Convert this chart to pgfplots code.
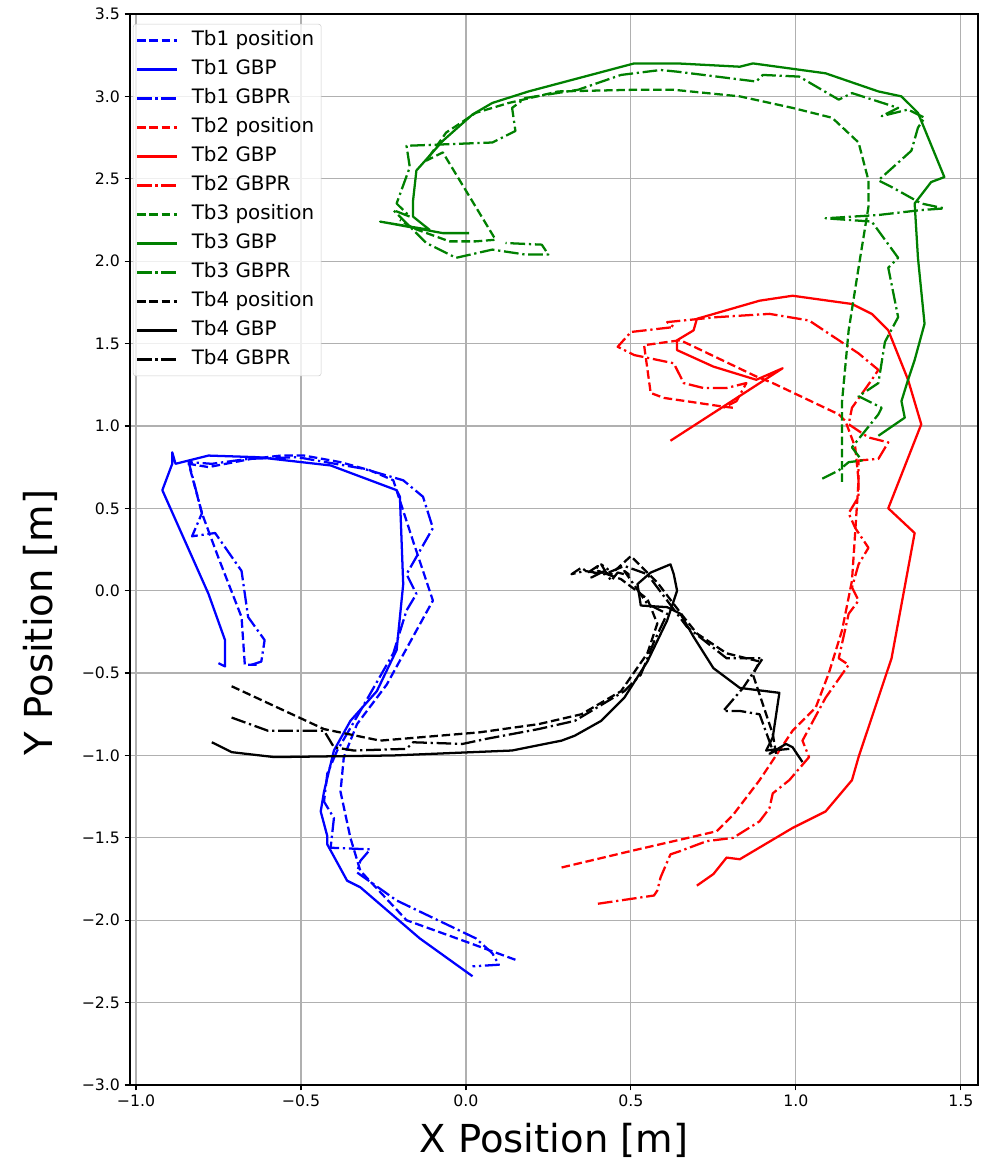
\documentclass[border=0pt]{standalone}
\usepackage{fontspec}
\setmainfont{DejaVu Sans}
\usepackage{pgfplots}
\pgfplotsset{compat=1.18}
\definecolor{mplgreen}{rgb}{0,0.5,0}
\tikzset{
  dsh/.style={dash pattern=on 6.4pt off 2.8pt},
  dshdot/.style={dash pattern=on 11pt off 2.8pt on 1.7pt off 2.8pt},
}
\begin{document}
\begin{tikzpicture}
\begin{axis}[
  scale only axis, width=636pt, height=803.25pt,
  xmin=-1.018, xmax=1.552, ymin=-3, ymax=3.5,
  xtick={-1,-0.5,0,0.5,1,1.5},
  xticklabels={−1.0,−0.5,0.0,0.5,1.0,1.5},
  ytick={-3,-2.5,-2,-1.5,-1,-0.5,0,0.5,1,1.5,2,2.5,3,3.5},
  yticklabels={−3.0,−2.5,−2.0,−1.5,−1.0,−0.5,0.0,0.5,1.0,1.5,2.0,2.5,3.0,3.5},
  tick label style={font=\fontsize{11.8}{13}\selectfont},
  tick align=outside, major tick length=4pt,
  tick style={black, line width=0.9pt},
  xtick pos=bottom, ytick pos=left,
  axis line style={line width=0.9pt},
  grid=major, major grid style={color=black!31, line width=0.9pt},
  xlabel={X Position [m]}, ylabel={Y Position [m]},
  label style={font=\fontsize{28.9}{32}\selectfont},
  xlabel style={at={(axis description cs:0.5,-0.0514)}, anchor=center},
  ylabel style={at={(axis description cs:-0.106,0.432)}, anchor=center},
  legend style={at={(axis description cs:0.0035,0.9907)}, anchor=north west,
    draw=black!20, rounded corners=2pt, fill=white, fill opacity=0.8, text opacity=1,
    font=\fontsize{14.9}{17}\selectfont, row sep=4.25pt, column sep=7pt,
    inner xsep=2pt, inner ysep=3.5pt,
    nodes={text height=10.5pt, text depth=3pt, inner xsep=3.25pt, inner ysep=2pt}},
  legend cell align=left,
  legend image code/.code={\draw[#1] plot coordinates {(0pt,0pt) (30pt,0pt)};},
  every axis plot/.append style={line width=1.7pt, mark=none, line join=round},
]
% Tb1
\addplot[blue, dsh] coordinates {(0.15,-2.24) (0.00,-2.13) (-0.18,-2.00) (-0.32,-1.70) (-0.35,-1.50) (-0.38,-1.22) (-0.37,-1.01) (-0.33,-0.81) (-0.24,-0.57) (-0.10,-0.06) (-0.16,0.30) (-0.22,0.67) (-0.29,0.73) (-0.38,0.78) (-0.49,0.82) (-0.56,0.82) (-0.65,0.80) (-0.78,0.75) (-0.84,0.77) (-0.80,0.47) (-0.75,0.20) (-0.68,-0.16) (-0.67,-0.45) (-0.63,-0.45)};
\addlegendentry{Tb1 position}
\addplot[blue] coordinates {(-0.75,-0.44) (-0.73,-0.46) (-0.73,-0.30) (-0.78,-0.02) (-0.92,0.61) (-0.89,0.77) (-0.89,0.84) (-0.88,0.77) (-0.78,0.82) (-0.63,0.81) (-0.41,0.76) (-0.21,0.61) (-0.20,0.57) (-0.19,0.04) (-0.21,-0.36) (-0.27,-0.61) (-0.35,-0.79) (-0.40,-0.97) (-0.43,-1.22) (-0.44,-1.34) (-0.42,-1.49) (-0.42,-1.54) (-0.36,-1.76) (-0.32,-1.80) (-0.14,-2.11) (0.02,-2.34)};
\addlegendentry{Tb1 GBP}
\addplot[blue, dshdot] coordinates {(-0.65,-0.45) (-0.62,-0.43) (-0.61,-0.30) (-0.66,-0.16) (-0.68,0.12) (-0.76,0.35) (-0.83,0.33) (-0.80,0.47) (-0.84,0.78) (-0.77,0.77) (-0.66,0.80) (-0.51,0.81) (-0.31,0.74) (-0.19,0.67) (-0.13,0.57) (-0.10,0.38) (-0.18,0.10) (-0.15,-0.02) (-0.18,-0.12) (-0.22,-0.38) (-0.32,-0.73) (-0.39,-0.97) (-0.42,-1.11) (-0.43,-1.28) (-0.40,-1.38) (-0.41,-1.56) (-0.29,-1.57) (-0.32,-1.64) (-0.33,-1.71) (-0.21,-1.88) (0.03,-2.11) (0.08,-2.20) (0.10,-2.27) (0.02,-2.28)};
\addlegendentry{Tb1 GBPR}
% Tb2
\addplot[red, dsh] coordinates {(0.29,-1.68) (0.50,-1.58) (0.76,-1.46) (0.81,-1.36) (0.89,-1.15) (0.99,-0.85) (1.06,-0.71) (1.10,-0.50) (1.14,-0.24) (1.17,0.06) (1.18,0.36) (1.19,0.67) (1.18,0.87) (1.15,1.03) (1.13,1.07) (0.93,1.26) (0.88,1.30) (0.65,1.52) (0.54,1.49) (0.56,1.20) (0.60,1.17) (0.77,1.12) (0.81,1.11)};
\addlegendentry{Tb2 position}
\addplot[red] coordinates {(0.62,0.91) (0.96,1.35) (0.88,1.28) (0.75,1.36) (0.64,1.46) (0.64,1.52) (0.69,1.58) (0.70,1.65) (0.89,1.76) (0.99,1.79) (1.17,1.74) (1.23,1.68) (1.28,1.58) (1.34,1.28) (1.38,1.01) (1.28,0.50) (1.36,0.35) (1.29,-0.41) (1.19,-1.01) (1.17,-1.15) (1.09,-1.34) (0.99,-1.44) (0.83,-1.63) (0.79,-1.62) (0.75,-1.72) (0.70,-1.79)};
\addlegendentry{Tb2 GBP}
\addplot[red, dshdot] coordinates {(0.40,-1.90) (0.57,-1.85) (0.58,-1.82) (0.59,-1.74) (0.62,-1.60) (0.65,-1.58) (0.73,-1.52) (0.81,-1.50) (0.89,-1.40) (0.92,-1.32) (0.93,-1.23) (0.98,-1.15) (1.04,-1.01) (1.02,-0.91) (1.09,-0.65) (1.16,-0.45) (1.13,-0.41) (1.16,-0.14) (1.19,-0.06) (1.17,0.02) (1.19,0.16) (1.22,0.26) (1.18,0.38) (1.16,0.47) (1.19,0.57) (1.19,0.79) (1.25,0.80) (1.28,0.90) (1.22,0.93) (1.16,1.01) (1.17,1.11) (1.23,1.28) (1.25,1.34) (1.19,1.44) (1.04,1.64) (0.92,1.68) (0.76,1.66) (0.61,1.63) (0.63,1.60) (0.50,1.57) (0.46,1.48) (0.51,1.43) (0.63,1.38) (0.66,1.26) (0.72,1.23) (0.79,1.23) (0.85,1.26) (0.82,1.15) (0.77,1.10)};
\addlegendentry{Tb2 GBPR}
% Tb3
\addplot[mplgreen, dsh] coordinates {(1.14,0.66) (1.14,1.15) (1.16,1.58) (1.19,1.96) (1.22,2.33) (1.22,2.49) (1.19,2.72) (1.11,2.87) (0.99,2.93) (0.83,3.00) (0.63,3.04) (0.51,3.04) (0.28,3.03) (0.13,2.96) (0.03,2.90) (-0.06,2.78) (-0.12,2.61) (-0.07,2.66) (0.09,2.13) (0.03,2.12) (-0.05,2.12) (-0.16,2.20) (-0.20,2.25)};
\addlegendentry{Tb3 position}
\addplot[mplgreen] coordinates {(0.01,2.17) (-0.07,2.17) (-0.26,2.24) (-0.11,2.19) (-0.16,2.27) (-0.16,2.37) (-0.15,2.55) (-0.07,2.73) (0.02,2.89) (0.08,2.96) (0.19,3.03) (0.51,3.20) (0.64,3.20) (0.83,3.18) (0.87,3.20) (1.09,3.14) (1.25,3.03) (1.32,3.00) (1.37,2.90) (1.45,2.51) (1.41,2.48) (1.36,2.35) (1.37,2.02) (1.39,1.62) (1.36,1.40) (1.34,1.28) (1.32,1.15) (1.33,1.05) (1.25,0.94)};
\addlegendentry{Tb3 GBP}
\addplot[mplgreen, dshdot] coordinates {(1.08,0.68) (1.13,0.73) (1.16,0.78) (1.20,0.79) (1.17,0.87) (1.25,1.07) (1.26,1.11) (1.19,1.18) (1.25,1.26) (1.27,1.51) (1.31,1.66) (1.28,1.96) (1.31,2.02) (1.23,2.24) (1.09,2.26) (1.25,2.28) (1.38,2.31) (1.45,2.32) (1.38,2.35) (1.29,2.45) (1.25,2.49) (1.35,2.67) (1.37,2.81) (1.39,2.87) (1.34,2.92) (1.26,2.88) (1.31,2.93) (1.17,3.02) (1.13,2.98) (1.01,3.12) (0.90,3.13) (0.88,3.09) (0.64,3.15) (0.59,3.16) (0.47,3.13) (0.34,3.04) (0.18,2.99) (0.14,2.93) (0.15,2.79) (0.08,2.72) (-0.18,2.70) (-0.17,2.57) (-0.21,2.35) (-0.17,2.27) (-0.22,2.31) (-0.12,2.11) (-0.03,2.02) (0.08,2.07) (0.18,2.04) (0.25,2.04) (0.23,2.10) (0.12,2.11)};
\addlegendentry{Tb3 GBPR}
% Tb4
\addplot[black, dsh] coordinates {(-0.71,-0.58) (-0.43,-0.84) (-0.26,-0.91) (0.04,-0.86) (0.22,-0.81) (0.35,-0.75) (0.47,-0.61) (0.55,-0.38) (0.58,-0.20) (0.55,-0.05) (0.47,0.07) (0.40,0.12) (0.44,0.10) (0.50,0.21) (0.58,0.05) (0.66,-0.16) (0.70,-0.26) (0.79,-0.38) (0.89,-0.43) (0.87,-0.51) (0.93,-0.87) (0.94,-0.99)};
\addlegendentry{Tb4 position}
\addplot[black] coordinates {(-0.77,-0.92) (-0.71,-0.98) (-0.58,-1.01) (-0.22,-1.00) (0.14,-0.97) (0.29,-0.91) (0.33,-0.88) (0.41,-0.79) (0.48,-0.65) (0.55,-0.43) (0.61,-0.18) (0.64,0.00) (0.63,0.10) (0.62,0.16) (0.56,0.11) (0.52,0.04) (0.53,-0.09) (0.61,-0.10) (0.65,-0.14) (0.69,-0.28) (0.75,-0.47) (0.83,-0.59) (0.95,-0.62) (0.93,-0.89) (0.91,-0.97) (0.95,-0.96) (0.92,-0.99) (0.97,-0.93) (0.99,-0.95) (1.02,-1.04)};
\addlegendentry{Tb4 GBP}
\addplot[black, dshdot] coordinates {(-0.71,-0.77) (-0.60,-0.85) (-0.43,-0.85) (-0.40,-0.95) (-0.34,-0.97) (-0.18,-0.96) (-0.16,-0.92) (-0.01,-0.93) (0.06,-0.90) (0.22,-0.84) (0.33,-0.79) (0.48,-0.61) (0.53,-0.51) (0.57,-0.31) (0.61,-0.14) (0.55,-0.08) (0.48,0.12) (0.50,0.09) (0.46,0.11) (0.44,0.06) (0.41,0.16) (0.43,0.13) (0.38,0.08) (0.40,0.15) (0.37,0.11) (0.35,0.14) (0.32,0.10) (0.36,0.12) (0.42,0.10) (0.48,0.15) (0.55,0.10) (0.67,-0.22) (0.79,-0.41) (0.90,-0.41) (0.87,-0.50) (0.84,-0.59) (0.78,-0.73) (0.83,-0.73) (0.89,-0.75) (0.93,-0.97) (0.98,-0.96)};
\addlegendentry{Tb4 GBPR}
\end{axis}
\pgfresetboundingbox
\path[use as bounding box] ([xshift=-97.5pt,yshift=-62.25pt]current axis.south west) rectangle ([xshift=2.25pt,yshift=10.5pt]current axis.north east);
\end{tikzpicture}
\end{document}
